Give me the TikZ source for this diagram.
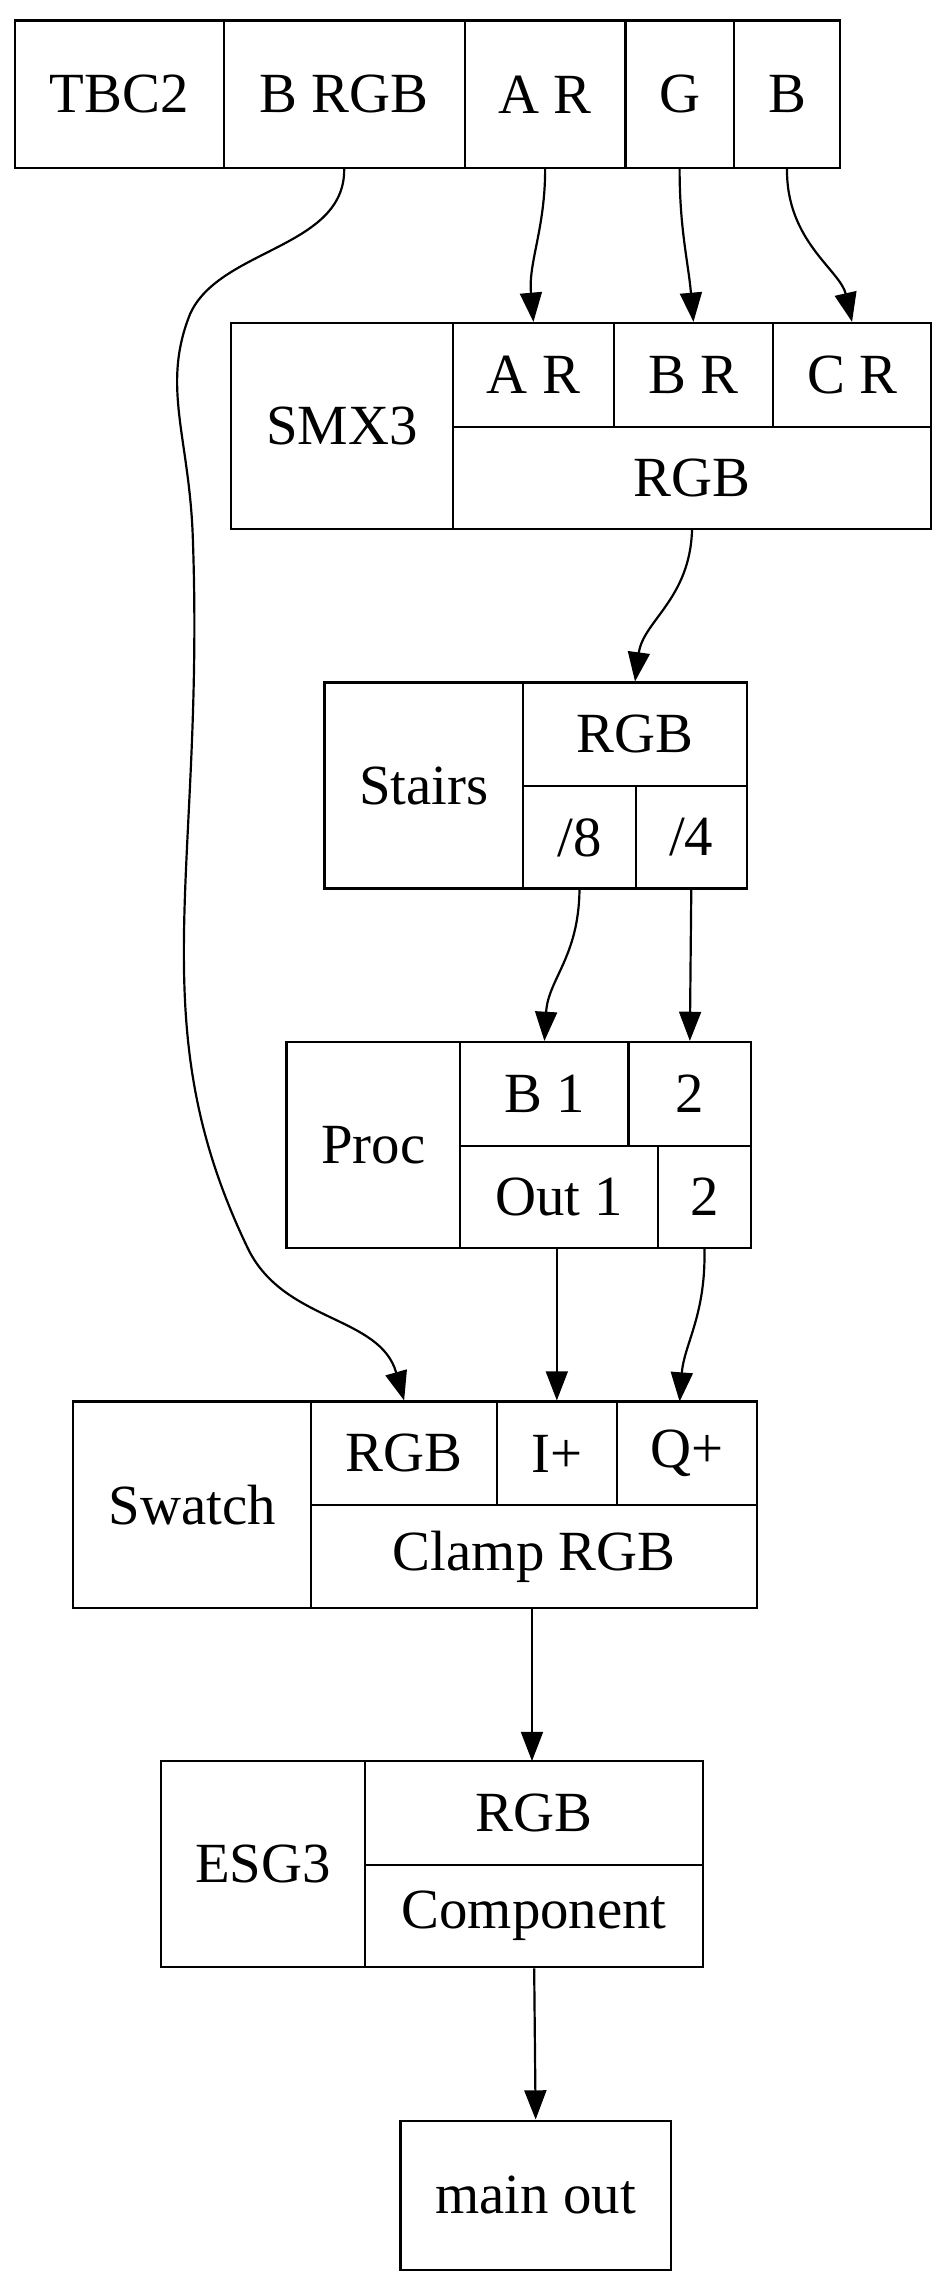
\documentclass[tikz,border=0pt]{standalone}
\usepackage{fontspec}
\setmainfont{Liberation Serif}
\usetikzlibrary{arrows.meta}
\newcommand\fld[6]{\node[fld, minimum width={(#4-#2)*1bp}, minimum height={(#5-#3)*1bp}] (#1) at ({(#2+#4)/2},{(#3+#5)/2}) {#6};}
\begin{document}
\begin{tikzpicture}[x=1bp,y=-1bp,
  fld/.style={draw, line width=1.5bp, inner sep=0pt, font=\fontsize{39}{45}\selectfont},
  e/.style={line width=1.5bp, -{Triangle[length=20bp,width=15bp]}}]
\useasboundingbox (0,0) rectangle (650,1571);
% TBC2
\fld{t1}{10}{14}{153}{115}{TBC2}
\fld{t2}{153}{14}{318}{115}{B RGB}
\fld{t3}{318}{14}{428}{115}{A R}
\fld{t4}{428}{14}{502}{115}{G}
\fld{t5}{502}{14}{575}{115}{B}
% SMX3
\fld{s0}{158}{221}{310}{362}{SMX3}
\fld{s1}{310}{221}{420}{292}{A R}
\fld{s2}{420}{221}{529}{292}{B R}
\fld{s3}{529}{221}{637}{292}{C R}
\fld{s4}{310}{292}{637}{362}{RGB}
% Stairs
\fld{st0}{222}{467}{358}{608}{Stairs}
\fld{st1}{358}{467}{511}{538}{RGB}
\fld{st2}{358}{538}{435}{608}{/8}
\fld{st3}{435}{538}{511}{608}{/4}
% Proc
\fld{p0}{196}{713}{315}{854}{Proc}
\fld{p1}{315}{713}{430}{784}{B 1}
\fld{p2}{430}{713}{514}{784}{2}
\fld{p3}{315}{784}{450}{854}{Out 1}
\fld{p4}{450}{784}{514}{854}{2}
% Swatch
\fld{w0}{50}{959}{213}{1100}{Swatch}
\fld{w1}{213}{959}{340}{1030}{RGB}
\fld{w2}{340}{959}{422}{1030}{I+}
\fld{w3}{422}{959}{518}{1030}{Q+}
\fld{w4}{213}{1030}{518}{1100}{Clamp RGB}
% ESG3
\fld{g0}{110}{1205}{250}{1346}{ESG3}
\fld{g1}{250}{1205}{481}{1276}{RGB}
\fld{g2}{250}{1276}{481}{1346}{Component}
% main out
\fld{m}{274}{1451}{459}{1553}{main out}
% edges
\draw[e] (t2.south) .. controls (236,170) and (150,170) .. (130,215)
  .. controls (110,265) and (130,300) .. (132,370)
  .. controls (140,600) and (95,700) .. (170,855)
  .. controls (195,905) and (260,900) .. (w1.north);
\draw[e] (t3.south) to[out=-90,in=95] (s1.north);
\draw[e] (t4.south) to[out=-90,in=95] (s2.north);
\draw[e] (t5.south) .. controls (538,165) and (575,185) .. (s3.north);
\draw[e] (s4.south) .. controls (472,410) and (440,425) .. (st1.north);
\draw[e] (st2.south) .. controls (396,655) and (375,670) .. (p1.north);
\draw[e] (st3.south) -- (p2.north);
\draw[e] (381,854) -- (w2.north);
\draw[e] (p4.south) .. controls (483,900) and (468,920) .. (465,959);
\draw[e] (364,1100) -- (364,1205);
\draw[e] (g2.south) -- (m.north);
\end{tikzpicture}
\end{document}
